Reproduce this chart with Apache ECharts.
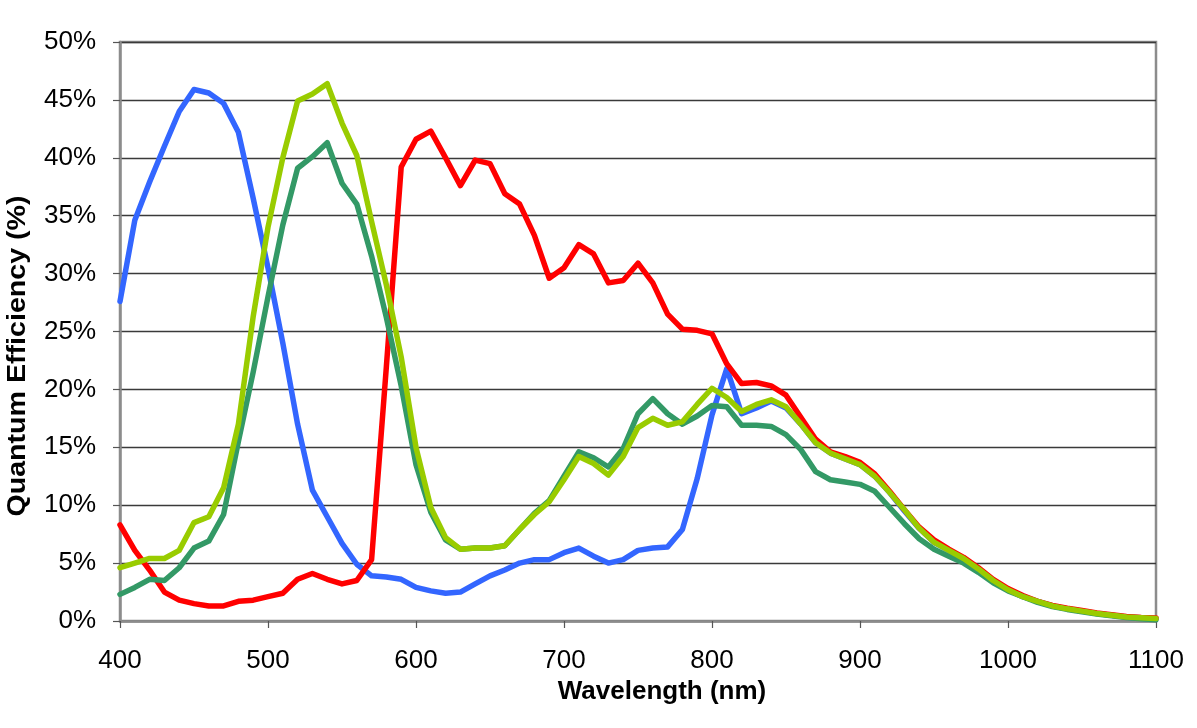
<!DOCTYPE html>
<html>
<head>
<meta charset="utf-8">
<script src="https://cdn.jsdelivr.net/npm/echarts@6/dist/echarts.min.js"></script>
<style>
html,body{margin:0;padding:0;background:#fff;}
#chart{width:1197px;height:728px;}
</style>
</head>
<body>
<div id="chart"></div>
<script>
// Wavelength (nm)
const wavelengths = [400,410,420,430,440,450,460,470,480,490,500,510,520,530,540,550,560,570,580,590,600,610,620,630,640,650,660,670,680,690,700,710,720,730,740,750,760,770,780,790,800,810,820,830,840,850,860,870,880,890,900,910,920,930,940,950,960,970,980,990,1000,1010,1020,1030,1040,1050,1060,1070,1080,1090,1100];

// Quantum efficiency (%)
const blueQE = [27.6,34.6,37.9,41.0,44.0,45.9,45.6,44.7,42.2,36.5,30.5,24.0,17.0,11.3,9.0,6.7,4.9,3.9,3.8,3.6,2.9,2.6,2.4,2.5,3.2,3.9,4.4,5.0,5.3,5.3,5.9,6.3,5.6,5.0,5.3,6.1,6.3,6.4,7.9,12.3,17.8,21.8,17.9,18.4,19.0,18.4,17.0,15.4,14.5,14.0,13.5,12.5,11.1,9.5,8.0,6.8,6.1,5.4,4.5,3.5,2.7,2.1,1.7,1.3,1.05,0.85,0.65,0.5,0.35,0.28,0.2];

const redQE = [8.3,6.1,4.4,2.5,1.8,1.5,1.3,1.3,1.7,1.8,2.1,2.4,3.6,4.1,3.6,3.2,3.5,5.3,22.0,39.2,41.6,42.3,40.0,37.6,39.8,39.5,36.9,36.0,33.3,29.6,30.5,32.5,31.7,29.2,29.4,30.9,29.2,26.5,25.2,25.1,24.8,22.2,20.5,20.6,20.3,19.5,17.6,15.7,14.6,14.2,13.7,12.7,11.2,9.6,8.1,7.0,6.2,5.5,4.6,3.6,2.8,2.2,1.7,1.35,1.1,0.9,0.7,0.55,0.4,0.3,0.25];

const darkGreenQE = [2.3,2.9,3.6,3.5,4.6,6.3,6.9,9.2,15.5,21.5,28.0,34.2,39.1,40.1,41.3,37.8,36.0,31.5,26.2,20.3,13.5,9.4,7.0,6.2,6.3,6.3,6.5,7.9,9.3,10.4,12.5,14.6,14.1,13.3,14.9,17.9,19.2,17.9,17.0,17.7,18.6,18.5,16.9,16.9,16.8,16.1,14.8,12.9,12.2,12.0,11.8,11.2,9.8,8.4,7.1,6.2,5.6,5.0,4.2,3.3,2.6,2.1,1.6,1.25,1.0,0.8,0.6,0.45,0.3,0.2,0.1];

const yellowGreenQE = [4.6,5.0,5.4,5.4,6.1,8.5,9.0,11.5,17.0,26.3,34.0,40.0,44.9,45.5,46.4,43.0,40.2,34.5,29.0,22.8,15.0,9.8,7.2,6.2,6.3,6.3,6.5,7.9,9.2,10.3,12.2,14.2,13.6,12.6,14.2,16.7,17.5,16.9,17.2,18.7,20.1,19.3,18.1,18.7,19.1,18.5,17.0,15.4,14.5,14.0,13.5,12.5,11.1,9.6,8.0,6.8,6.1,5.4,4.5,3.5,2.7,2.1,1.7,1.3,1.05,0.85,0.65,0.5,0.35,0.28,0.22];

const xTicks = [400,500,600,700,800,900,1000,1100];
const yTicks = [0,5,10,15,20,25,30,35,40,45,50];

const FONT = "'Liberation Sans', Arial, sans-serif";

function pairs(vals){ return wavelengths.map((w,i)=>[w, vals[i]]); }

function mkSeries(name, vals, color){
  return {
    name: name, type: 'line', data: pairs(vals), symbol: 'none', smooth: false,
    lineStyle: {color: color, width: 5.5, cap: 'round', join: 'round'},
    itemStyle: {color: color}, animation: false
  };
}

const chart = echarts.init(document.getElementById('chart'), null, {renderer: 'canvas'});
chart.setOption({
  backgroundColor: '#ffffff',
  animation: false,
  grid: {left: 120, top: 42, right: 41, bottom: 107, show: true, borderColor: '#8c8c8c', borderWidth: 2.5, backgroundColor: 'transparent'},
  xAxis: {
    type: 'value', min: xTicks[0], max: xTicks[xTicks.length-1], interval: 100,
    axisLine: {show: true, onZero: false, lineStyle: {color: '#8c8c8c', width: 2.5}},
    axisTick: {show: true, length: 7, lineStyle: {color: '#555', width: 1.2}},
    splitLine: {show: false},
    axisLabel: {margin: 27, color: '#000', fontSize: 26, fontFamily: FONT, formatter: function(v){ return String(v); }}
  },
  yAxis: {
    type: 'value', min: yTicks[0], max: yTicks[yTicks.length-1], interval: 5,
    axisLine: {show: true, lineStyle: {color: '#8c8c8c', width: 2.5}},
    axisTick: {show: true, length: 7, lineStyle: {color: '#555', width: 1.2}},
    splitLine: {show: true, lineStyle: {color: '#3a3a3a', width: 1.4}},
    axisLabel: {margin: 24, color: '#000', fontSize: 26, fontFamily: FONT, formatter: function(v){ return v + '%'; }}
  },
  graphic: [
    {type: 'text', x: 662, y: 692, style: {text: 'Wavelength (nm)', font: "bold 26px 'Liberation Sans', Arial, sans-serif", fill: '#000', textAlign: 'center', textVerticalAlign: 'middle'}},
    {type: 'text', x: 18, y: 356, rotation: Math.PI/2, scaleX: 1.1, style: {text: 'Quantum Efficiency (%)', font: "bold 26px 'Liberation Sans', Arial, sans-serif", fill: '#000', textAlign: 'center', textVerticalAlign: 'middle'}}
  ],
  series: [
    mkSeries('Blue', blueQE, '#3366ff'),
    mkSeries('Red', redQE, '#ff0000'),
    mkSeries('Dark Green', darkGreenQE, '#339966'),
    mkSeries('Yellow Green', yellowGreenQE, '#99cc00')
  ]
});
</script>
</body>
</html>
